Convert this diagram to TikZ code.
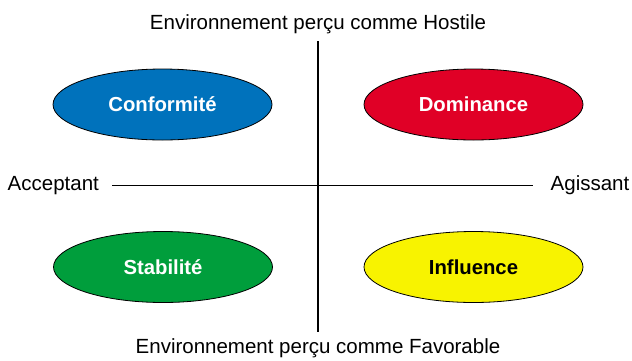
\documentclass[tikz,border=0pt]{standalone}
\usepackage{fontspec}
\setmainfont{Liberation Sans}
\usetikzlibrary{shapes.geometric}
\definecolor{cblue}{RGB}{0,114,188}
\definecolor{cred}{RGB}{224,0,38}
\definecolor{cgreen}{RGB}{0,158,60}
\definecolor{cyellow}{RGB}{248,243,0}
\tikzset{
  quadrant/.style={ellipse, draw=black, line width=0.8pt, minimum width=219pt, minimum height=71pt, inner sep=0pt, font=\fontsize{20.3}{24}\selectfont\bfseries},
  axislabel/.style={anchor=base, inner sep=0pt, font=\fontsize{20.5}{24}\selectfont},
  axisline/.style={line width=1.7pt, black}
}
\begin{document}
\begin{tikzpicture}[x=1pt,y=-1pt]
\useasboundingbox (0,0) rectangle (632,360);
\node[axislabel] (top) at (318,29) {Environnement perçu comme Hostile};
\node[axislabel] (bottom) at (318,353) {Environnement perçu comme Favorable};
\node[axislabel, anchor=base west] (left) at (7.5,190.7) {Acceptant};
\node[axislabel, anchor=base east] (right) at (629.5,190.7) {Agissant};
\coordinate (vtop) at (318,41);
\coordinate (vbot) at (318,332);
\coordinate (hleft) at (112,185.5);
\coordinate (hright) at (533,185.5);
\draw[axisline] (vtop) -- (vbot);
\draw[axisline] (hleft) -- (hright);
\node[quadrant, fill=cblue, text=white] (conf) at (162.5,104.5) {Conformité};
\node[quadrant, fill=cred, text=white] (dom) at (473.5,104.5) {Dominance};
\node[quadrant, fill=cgreen, text=white] (stab) at (163,267) {Stabilité};
\node[quadrant, fill=cyellow, text=black] (infl) at (473.5,267) {Influence};
\end{tikzpicture}
\end{document}
